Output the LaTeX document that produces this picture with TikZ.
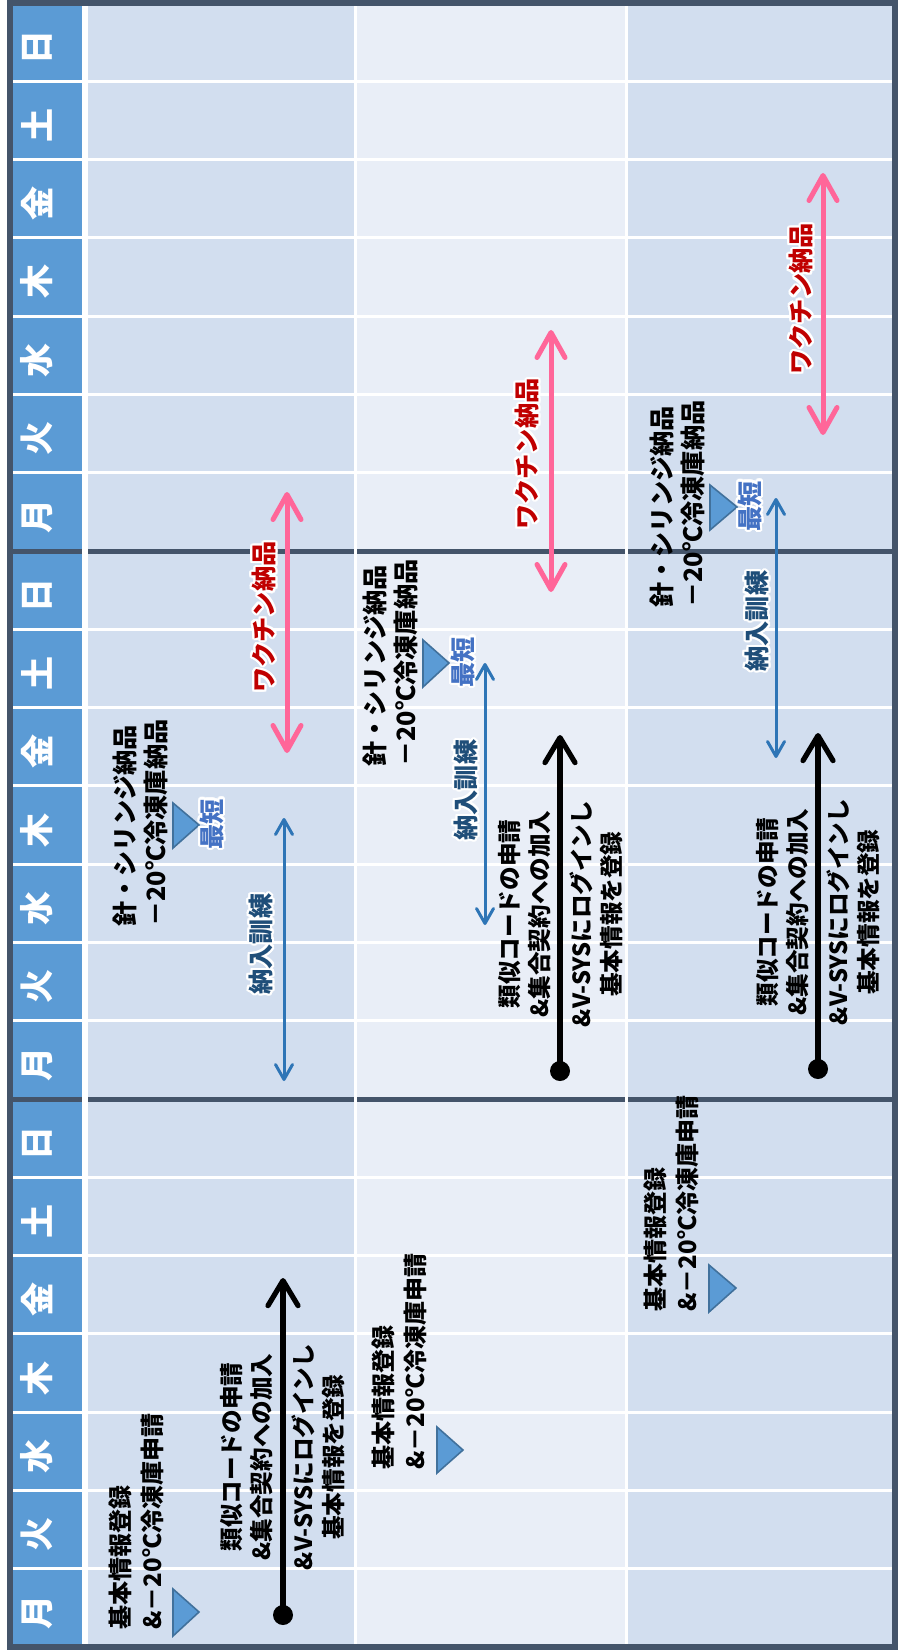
\documentclass[tikz,border=0pt]{standalone}
\usepackage{fontspec}
\setmainfont{Noto Sans CJK JP}
\usepackage{contour}
\contourlength{1.1pt}
\usetikzlibrary{arrows.meta}
\definecolor{hdr}{HTML}{5B9BD5}
\definecolor{bgA}{HTML}{D2DEEF}
\definecolor{bgB}{HTML}{E9EEF7}
\definecolor{frame}{HTML}{44546A}
\definecolor{tribord}{HTML}{41719C}
\definecolor{pinkarr}{HTML}{FF6699}
\definecolor{redtxt}{HTML}{C00000}
\definecolor{bluearr}{HTML}{2E75B6}
\definecolor{navytxt}{HTML}{1F4E79}
\definecolor{shorttxt}{HTML}{4472C4}
\begin{document}
\begin{tikzpicture}[x=0.5pt,y=-0.5pt,
  dayl/.style={text=white,font=\fontsize{17}{17}\selectfont\bfseries,rotate=90,inner sep=0pt},
  lbl/.style={text=black,font=\fontsize{12}{16}\selectfont\bfseries,rotate=90,inner sep=0pt,align=left,anchor=west},
  lblc/.style={text=black,font=\fontsize{11.8}{15}\selectfont\bfseries,rotate=90,inner sep=0pt,align=center,anchor=center},
  lblb/.style={text=black,font=\fontsize{12.6}{15.5}\selectfont\bfseries,rotate=90,inner sep=0pt,align=left,anchor=west},
  glowlbl/.style={font=\fontsize{12.6}{15}\selectfont\bfseries,rotate=90,inner sep=0pt,anchor=center},
  tri/.style={fill=hdr,draw=tribord,line width=0.8pt,line join=miter},
  dotnode/.style={circle,fill=black,inner sep=0pt,minimum size=10pt},
  blkarrow/.style={line width=2.6pt,-{Straight Barb[round,length=12.5pt,width=15pt]}},
  bluedbl/.style={bluearr,line width=1.5pt,{Straight Barb[round,length=7.5pt,width=8.5pt]}-{Straight Barb[round,length=7.5pt,width=8.5pt]}},
  pinkdbl/.style={pinkarr,line width=2.5pt,{Straight Barb[round,length=12.5pt,width=14pt]}-{Straight Barb[round,length=12.5pt,width=14pt]}}
]
\useasboundingbox (0,0) rectangle (901,1652);
\fill[white] (0,0) rectangle (901,1652);
% table body
\fill[hdr] (10,3) rectangle (85,1647);
\fill[bgA] (85,3) rectangle (355,1647);
\fill[bgB] (355,3) rectangle (626,1647);
\fill[bgA] (626,3) rectangle (895,1647);
\foreach \k in {1,2,3,4,5,6,8,9,10,11,12,13,15,16,17,18,19,20}
  \draw[white,line width=1.5pt] (10,{3+78.286*\k}) -- (895,{3+78.286*\k});
\foreach \k in {7,14}
  \draw[frame,line width=2.5pt] (10,{3+78.286*\k}) -- (895,{3+78.286*\k});
\draw[white,line width=3pt] (85,3) -- (85,1647);
\draw[white,line width=1.5pt] (355,3) -- (355,1647);
\draw[white,line width=1.5pt] (626,3) -- (626,1647);
\draw[frame,line width=3.25pt] (10,3) rectangle (895,1647);
% day labels
\foreach \i/\d in {0/日,1/土,2/金,3/木,4/水,5/火,6/月,7/日,8/土,9/金,10/木,11/水,12/火,13/月,14/日,15/土,16/金,17/木,18/水,19/火,20/月}
  \node[dayl] (day\i) at (37,{3+78.286*(\i+0.5)+5}) {\d};

% ---------- column 1 ----------
\node[lbl] (reg1) at (136,1630) {基本情報登録\\\&－20℃冷凍庫申請};
\draw[tri] (173,1589) -- (173,1636) -- (199,1612) -- cycle;
\node[lblc] (sim1) at (247,1457) {類似コードの申請\\\&集合契約への加入};
\node[lblc] (vsys1) at (318,1457) {\&V-SYSにログインし\\基本情報を登録};
\node[dotnode] (dot1) at (283,1615) {};
\coordinate (tip1) at (283,1278);
\draw[blkarrow] (dot1.center) -- (tip1);
\node[lblb] (dev1) at (140,927) {針・シリンジ納品\\－20℃冷凍庫納品};
\draw[tri] (173,803) -- (173,848) -- (199,825) -- cycle;
\node[glowlbl,text=shorttxt] (sh1) at (213,824) {\contour{white}{最短}};
\coordinate (tr1a) at (284,1081);
\coordinate (tr1b) at (284,818);
\draw[bluedbl] (tr1a) -- (tr1b);
\node[glowlbl,text=navytxt] (trl1) at (262,944) {\contour{white}{納入訓練}};
\coordinate (vx1a) at (287,753);
\coordinate (vx1b) at (287,492);
\draw[pinkdbl] (vx1a) -- (vx1b);
\node[glowlbl,text=redtxt] (vxl1) at (265,617) {\contour{white}{ワクチン納品}};

% ---------- column 2 ----------
\node[lbl] (reg2) at (399,1470) {基本情報登録\\\&－20℃冷凍庫申請};
\draw[tri] (437,1427) -- (437,1473) -- (463,1450) -- cycle;
\node[lblc] (sim2) at (525,914) {類似コードの申請\\\&集合契約への加入};
\node[lblc] (vsys2) at (596,914) {\&V-SYSにログインし\\基本情報を登録};
\node[dotnode] (dot2) at (560,1071) {};
\coordinate (tip2) at (560,735);
\draw[blkarrow] (dot2.center) -- (tip2);
\node[lblb] (dev2) at (390,767) {針・シリンジ納品\\－20℃冷凍庫納品};
\draw[tri] (423,640) -- (423,687) -- (449,663) -- cycle;
\node[glowlbl,text=shorttxt] (sh2) at (464,662) {\contour{white}{最短}};
\coordinate (tr2a) at (485,925);
\coordinate (tr2b) at (485,663);
\draw[bluedbl] (tr2a) -- (tr2b);
\node[glowlbl,text=navytxt] (trl2) at (467,790) {\contour{white}{納入訓練}};
\coordinate (vx2a) at (551,592);
\coordinate (vx2b) at (551,330);
\draw[pinkdbl] (vx2a) -- (vx2b);
\node[glowlbl,text=redtxt] (vxl2) at (528,454) {\contour{white}{ワクチン納品}};

% ---------- column 3 ----------
\node[lbl] (reg3) at (671,1312) {基本情報登録\\\&－20℃冷凍庫申請};
\draw[tri] (709,1265) -- (709,1312) -- (736,1288) -- cycle;
\node[lblc] (sim3) at (783,912) {類似コードの申請\\\&集合契約への加入};
\node[lblc] (vsys3) at (853,912) {\&V-SYSにログインし\\基本情報を登録};
\node[dotnode] (dot3) at (818,1069) {};
\coordinate (tip3) at (818,733);
\draw[blkarrow] (dot3.center) -- (tip3);
\node[lblb] (dev3) at (677,608) {針・シリンジ納品\\－20℃冷凍庫納品};
\draw[tri] (710,485) -- (710,530) -- (737,507) -- cycle;
\node[glowlbl,text=shorttxt] (sh3) at (751,506) {\contour{white}{最短}};
\coordinate (tr3a) at (776,758);
\coordinate (tr3b) at (776,498);
\draw[bluedbl] (tr3a) -- (tr3b);
\node[glowlbl,text=navytxt] (trl3) at (758,621) {\contour{white}{納入訓練}};
\coordinate (vx3a) at (823,435);
\coordinate (vx3b) at (823,173);
\draw[pinkdbl] (vx3a) -- (vx3b);
\node[glowlbl,text=redtxt] (vxl3) at (802,299) {\contour{white}{ワクチン納品}};
\end{tikzpicture}
\end{document}
